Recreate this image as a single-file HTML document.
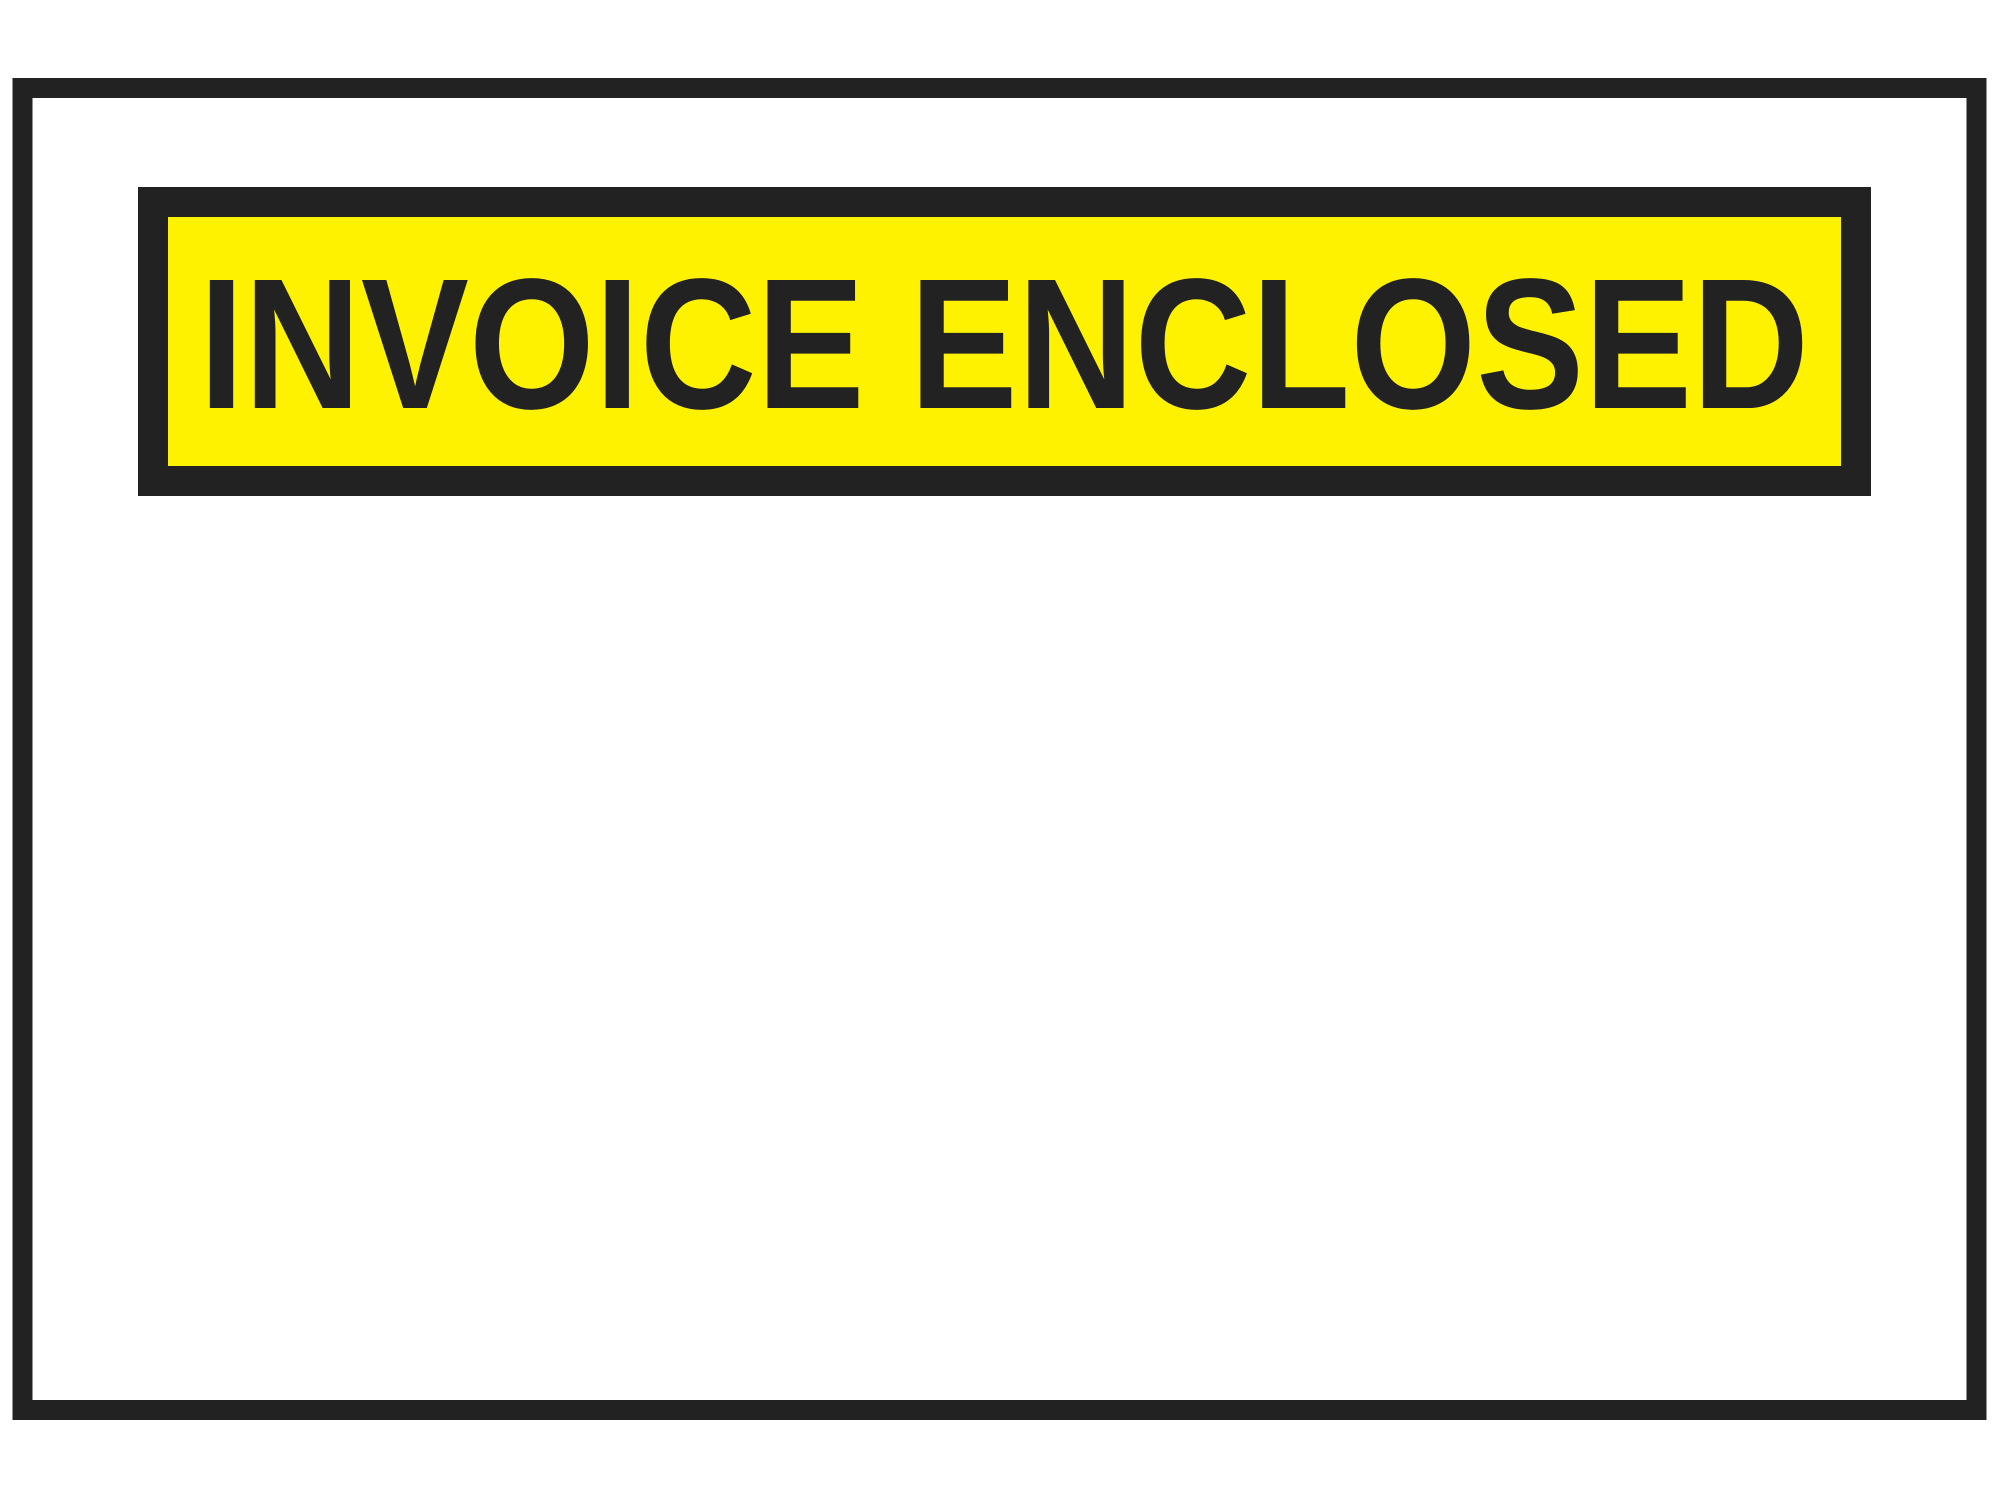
<!DOCTYPE html>
<html><head><style>
html,body{margin:0;padding:0;background:#fff;}
</style></head><body>
<svg width="2000" height="1499" xmlns="http://www.w3.org/2000/svg">
<rect x="0" y="0" width="2000" height="1499" fill="#fff"/>
<rect x="22.5" y="88" width="1954" height="1322" fill="none" stroke="#222" stroke-width="20"/>
<rect x="153" y="202" width="1703" height="279" fill="#fff200" stroke="#222" stroke-width="30"/>
<text x="199" y="408" font-family="Liberation Sans, Arial, sans-serif" font-weight="bold" font-size="186" fill="#222" textLength="1610" lengthAdjust="spacingAndGlyphs">INVOICE ENCLOSED</text>
</svg>
</body></html>
